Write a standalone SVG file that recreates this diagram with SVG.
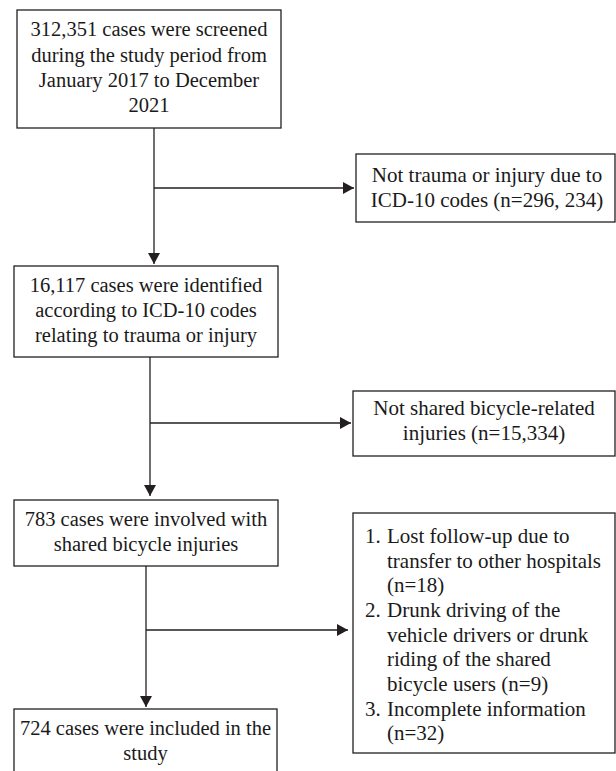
<svg xmlns="http://www.w3.org/2000/svg" width="616" height="771" viewBox="0 0 616 771">
<style>
.box{fill:#fff;stroke:#231f20;stroke-width:1.3}
.t{font-family:"Liberation Serif","Times New Roman",serif;font-size:20.5px;fill:#1a1a1a}
.r{font-size:21px}
.c{text-anchor:middle}
.ln{fill:none;stroke:#231f20;stroke-width:1.3}
</style>
<defs>
<marker id="ah" markerUnits="userSpaceOnUse" markerWidth="12" markerHeight="12" refX="11" refY="6" orient="auto">
<path d="M0,0 L11,6 L0,12 Z" fill="#231f20"/>
</marker>
</defs>
<g id="connectors">
<line class="ln" x1="154" y1="128" x2="154" y2="264" marker-end="url(#ah)"/>
<line class="ln" x1="154" y1="188" x2="354" y2="188" marker-end="url(#ah)"/>
<line class="ln" x1="150" y1="357" x2="150" y2="496" marker-end="url(#ah)"/>
<line class="ln" x1="150" y1="423" x2="351" y2="423" marker-end="url(#ah)"/>
<line class="ln" x1="146" y1="566" x2="146" y2="707" marker-end="url(#ah)"/>
<line class="ln" x1="146" y1="630" x2="348" y2="630" marker-end="url(#ah)"/>
</g>
<g id="screened">
<rect class="box" x="17" y="10" width="264" height="118"/>
<text class="t c" x="149" y="36">312,351 cases were screened</text>
<text class="t c" x="149" y="62">during the study period from</text>
<text class="t c" x="149" y="87">January 2017 to December</text>
<text class="t c" x="149" y="112">2021</text>
</g>
<g id="excluded1">
<rect class="box" x="356" y="154" width="259" height="68"/>
<text class="t r c" x="487" y="182">Not trauma or injury due to</text>
<text class="t r c" x="487" y="207">ICD-10 codes (n=296, 234)</text>
</g>
<g id="identified">
<rect class="box" x="14" y="266" width="264" height="91"/>
<text class="t c" x="146" y="292">16,117 cases were identified</text>
<text class="t c" x="146" y="317">according to ICD-10 codes</text>
<text class="t c" x="146" y="342">relating to trauma or injury</text>
</g>
<g id="excluded2">
<rect class="box" x="353" y="391" width="262" height="65"/>
<text class="t r c" x="484" y="415">Not shared bicycle-related</text>
<text class="t r c" x="484" y="440">injuries (n=15,334)</text>
</g>
<g id="involved">
<rect class="box" x="14" y="500" width="264" height="66"/>
<text class="t c" x="146" y="526">783 cases were involved with</text>
<text class="t c" x="146" y="551">shared bicycle injuries</text>
</g>
<g id="excluded3">
<rect class="box" x="353" y="513" width="262" height="240"/>
<text class="t r" x="365" y="543">1.</text>
<text class="t r" x="387" y="543">Lost follow-up due to</text>
<text class="t r" x="387" y="568">transfer to other hospitals</text>
<text class="t r" x="387" y="592">(n=18)</text>
<text class="t r" x="365" y="617">2.</text>
<text class="t r" x="387" y="617">Drunk driving of the</text>
<text class="t r" x="387" y="642">vehicle drivers or drunk</text>
<text class="t r" x="387" y="666">riding of the shared</text>
<text class="t r" x="387" y="691">bicycle users (n=9)</text>
<text class="t r" x="365" y="716">3.</text>
<text class="t r" x="387" y="716">Incomplete information</text>
<text class="t r" x="387" y="740">(n=32)</text>
</g>
<g id="included">
<rect class="box" x="14" y="709" width="263" height="80"/>
<text class="t c" x="145.5" y="735">724 cases were included in the</text>
<text class="t c" x="145.5" y="760">study</text>
</g>
</svg>
